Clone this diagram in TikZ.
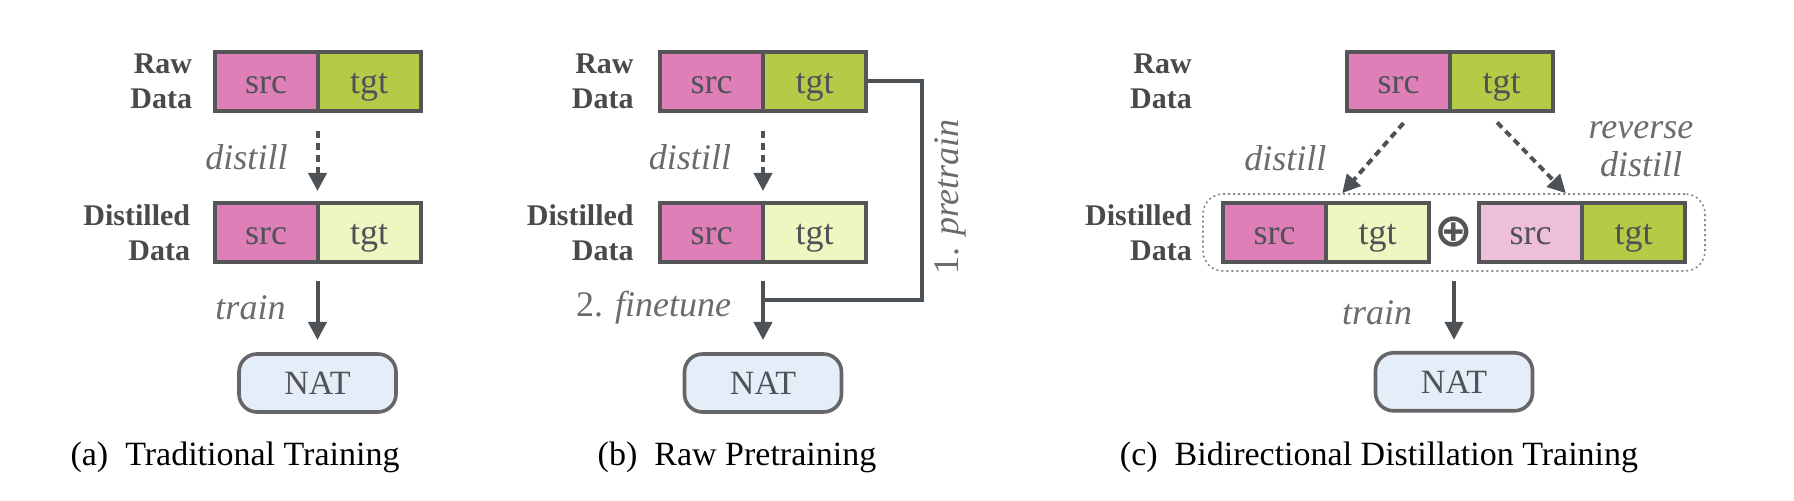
\documentclass[tikz,border=0pt]{standalone}
\usepackage{fontspec}
\setmainfont{Liberation Serif}
\newfontfamily\symbfont{DejaVu Sans}
\usepackage{tikz}
\usetikzlibrary{positioning,arrows.meta,fit}
\definecolor{srcpink}{HTML}{DE80B7}
\definecolor{srcpale}{HTML}{EDBFD9}
\definecolor{tgtgreen}{HTML}{B3CB47}
\definecolor{tgtpale}{HTML}{EEF7C1}
\definecolor{natblue}{HTML}{E4EDF8}
\definecolor{boxline}{HTML}{555557}
\definecolor{arrowgray}{HTML}{4D5257}
\definecolor{textgray}{HTML}{515257}
\definecolor{notegray}{HTML}{6B6B6E}
\definecolor{taggray}{HTML}{4A4A4D}

\begin{document}
\begin{tikzpicture}[x=0.5pt, y=-0.5pt,
        cell/.style={draw=boxline, line width=2pt, minimum width=51.5pt, minimum height=29.5pt,
            inner sep=0pt, outer sep=0pt, text=textgray, text height=12pt, text depth=0pt,
            font=\fontsize{18}{18}\selectfont},
        tag/.style={align=right, inner sep=0pt, text=taggray, font=\fontsize{15}{17.5}\selectfont\bfseries},
        model/.style={draw=boxline!90, fill=natblue, line width=1.8pt, rounded corners=9pt,
            minimum width=78.5pt, minimum height=29pt, outer sep=0pt, text=textgray,
            font=\fontsize{17}{17}\selectfont},
        group/.style={draw=boxline!70, line width=0.8pt, dash pattern=on 1pt off 1.5pt, rounded corners=10pt},
        plus/.style={minimum width=25pt, inner sep=0pt, outer sep=0pt, text=boxline,
            font=\symbfont\bfseries\fontsize{23}{23}\selectfont},
        flow/.style={draw=arrowgray, line width=2pt, -{Triangle[length=9pt,width=9pt]}},
        distflow/.style={flow, dash pattern=on 3.5pt off 2.5pt},
        link/.style={draw=arrowgray, line width=2pt},
        note/.style={inner sep=0pt, text=notegray, align=center, font=\fontsize{18}{19}\selectfont\itshape},
        caption/.style={anchor=base, font=\fontsize{17}{20}\selectfont}
    ]
    \useasboundingbox (0,0) rectangle (1794,501);

    % (a) traditional training
    \node[cell, fill=srcpink] (a-raw-src) at (266,81.5) {src};
    \node[cell, fill=tgtgreen, right=0pt of a-raw-src] (a-raw-tgt) {tgt};
    \node[cell, fill=srcpink, below=46pt of a-raw-src] (a-dst-src) {src};
    \node[cell, fill=tgtpale, right=0pt of a-dst-src] (a-dst-tgt) {tgt};
    \node[tag, left=11pt of a-raw-src] (a-raw-tag) {Raw\\Data};
    \node[tag, left=12pt of a-dst-src] (a-dst-tag) {Distilled\\Data};
    \node[model, below=46pt of a-dst-src.south east] (a-nat) {NAT};

    \draw[distflow, shorten <=10pt, shorten >=6pt] (a-raw-src.south east) -- (a-dst-src.north east)
        node[note, midway, left=14pt] {distill};
    \draw[flow, shorten <=9.5pt, shorten >=7pt] (a-dst-src.south east) -- (a-nat.north)
        node[note, midway, left=15pt] {train};
    \node[caption] (a-cap) at (235,466) {(a)\enspace Traditional Training};

    % (b) raw pretraining
    \node[cell, fill=srcpink] (b-raw-src) at (711.5,81.5) {src};
    \node[cell, fill=tgtgreen, right=0pt of b-raw-src] (b-raw-tgt) {tgt};
    \node[cell, fill=srcpink, below=46pt of b-raw-src] (b-dst-src) {src};
    \node[cell, fill=tgtpale, right=0pt of b-dst-src] (b-dst-tgt) {tgt};
    \node[tag, left=13pt of b-raw-src] (b-raw-tag) {Raw\\Data};
    \node[tag, left=13pt of b-dst-src] (b-dst-tag) {Distilled\\Data};
    \node[model, below=46pt of b-dst-src.south east] (b-nat) {NAT};
    \coordinate (b-turn) at (922,300.5);

    \draw[distflow, shorten <=10pt, shorten >=6pt] (b-raw-src.south east) -- (b-dst-src.north east)
        node[note, midway, left=15pt] {distill};
    \draw[flow, shorten <=9.5pt, shorten >=7pt] (b-dst-src.south east) -- (b-nat.north)
        node[note, midway, left=15pt] {\upshape 2. \itshape finetune};
    \draw[link] (b-raw-tgt.east) -| (b-turn) -- (b-nat.north |- b-turn);
    \node[note, rotate=90] (b-pre-note) at (950,197) {\upshape 1. \itshape pretrain};
    \node[caption] (b-cap) at (737,466) {(b)\enspace Raw Pretraining};

    % (c) bidirectional distillation training
    \node[cell, fill=srcpink] (c-raw-src) at (1398.5,81.5) {src};
    \node[cell, fill=tgtgreen, right=0pt of c-raw-src] (c-raw-tgt) {tgt};
    \node[cell, fill=srcpink] (c-d1-src) at (1274.5,232.5) {src};
    \node[cell, fill=tgtpale, right=0pt of c-d1-src] (c-d1-tgt) {tgt};
    \node[plus, right=0pt of c-d1-tgt] (c-plus) {⊕};
    \node[cell, fill=srcpale, right=0pt of c-plus] (c-d2-src) {src};
    \node[cell, fill=tgtgreen, right=0pt of c-d2-src] (c-d2-tgt) {tgt};
    \node[group, fit=(c-d1-src)(c-d2-tgt), inner xsep=10pt, inner ysep=4.5pt] (c-dist) {};
    \node[tag, left=5pt of c-dist] (c-dst-tag) {Distilled\\Data};
    \node[tag, anchor=east] (c-raw-tag) at (c-dst-tag.east |- c-raw-src) {Raw\\Data};
    \node[model, below=40.5pt of c-dist] (c-nat) {NAT};

    \draw[distflow, shorten <=8pt] ([xshift=-18pt]c-raw-src.south east) -- ([xshift=70pt]c-dist.north west)
        node[note, pos=0.58, left=22pt] {distill};
    \draw[distflow, shorten <=8pt] ([xshift=18pt]c-raw-src.south east) -- ([xshift=-70pt]c-dist.north east)
        node[note, pos=0.46, right=32pt] {reverse\\distill};
    \draw[flow, shorten <=4.5pt, shorten >=6.5pt] (c-dist) -- (c-nat)
        node[note, midway, left=20pt] {train};
    \node[caption] (c-cap) at (1379,466) {(c)\enspace Bidirectional Distillation Training};
\end{tikzpicture}
\end{document}
